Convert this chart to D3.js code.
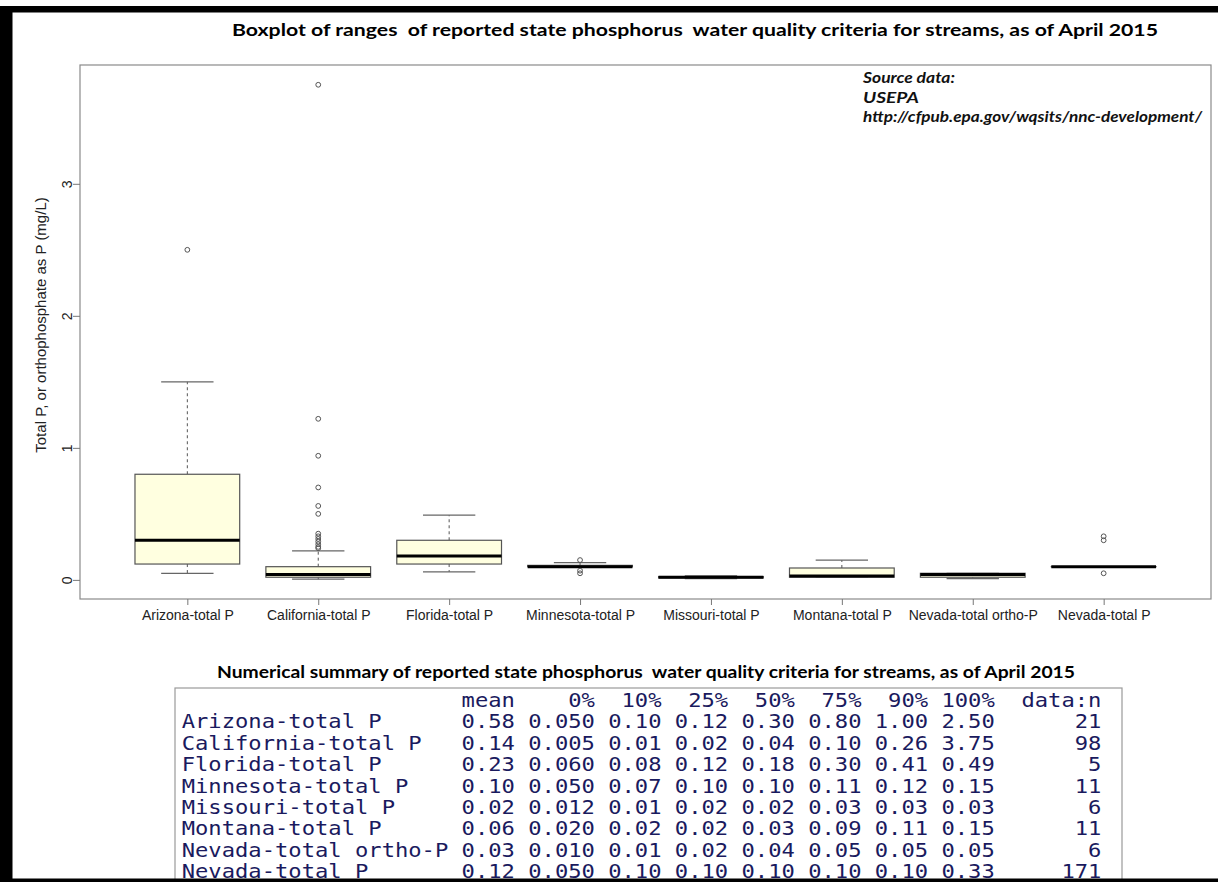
<!DOCTYPE html>
<html>
<head>
<meta charset="utf-8">
<script src="https://cdn.jsdelivr.net/npm/d3@7"></script>
<style>
  html, body { margin: 0; padding: 0; background: #fff; }
  svg { display: block; }
  .mono { white-space: pre; }
</style>
</head>
<body>
<svg id="chart" width="1218" height="882"></svg>
<script>
// ---------------- data ----------------
const categories = ["Arizona-total P", "California-total P", "Florida-total P", "Minnesota-total P",
  "Missouri-total P", "Montana-total P", "Nevada-total ortho-P", "Nevada-total P"];
const whiskerLow  = [0.05, 0.005, 0.06, 0.10, 0.010, 0.02, 0.01, 0.10];
const q1          = [0.12, 0.02,  0.12, 0.10, 0.015, 0.02, 0.02, 0.10];
const medians     = [0.30, 0.04,  0.18, 0.10, 0.020, 0.03, 0.04, 0.10];
const q3          = [0.80, 0.10,  0.30, 0.11, 0.025, 0.09, 0.05, 0.10];
const whiskerHigh = [1.50, 0.22,  0.49, 0.13, 0.030, 0.15, 0.05, 0.10];
const outliers = [
  [2.5],
  [3.75, 1.22, 0.94, 0.70, 0.56, 0.50, 0.35, 0.33, 0.31, 0.29, 0.27, 0.25, 0.24],
  [],
  [0.15, 0.07, 0.05],
  [],
  [],
  [],
  [0.33, 0.30, 0.05]
];
const yTicks = [0, 1, 2, 3];

// numerical summary table
const colHeaders = ["mean", "0%", "10%", "25%", "50%", "75%", "90%", "100%", "data:n"];
const meanVals = [0.58, 0.14, 0.23, 0.10, 0.02, 0.06, 0.03, 0.12];
const p0   = [0.050, 0.005, 0.060, 0.050, 0.012, 0.020, 0.010, 0.050];
const p10  = [0.10, 0.01, 0.08, 0.07, 0.01, 0.02, 0.01, 0.10];
const p25  = [0.12, 0.02, 0.12, 0.10, 0.02, 0.02, 0.02, 0.10];
const p50  = [0.30, 0.04, 0.18, 0.10, 0.02, 0.03, 0.04, 0.10];
const p75  = [0.80, 0.10, 0.30, 0.11, 0.03, 0.09, 0.05, 0.10];
const p90  = [1.00, 0.26, 0.41, 0.12, 0.03, 0.11, 0.05, 0.10];
const p100 = [2.50, 3.75, 0.49, 0.15, 0.03, 0.15, 0.05, 0.33];
const nVals = [21, 98, 5, 11, 6, 11, 6, 171];

const titleText = "Boxplot of ranges  of reported state phosphorus  water quality criteria for streams, as of April 2015";
const tableTitle = "Numerical summary of reported state phosphorus  water quality criteria for streams, as of April 2015";
const sourceLines = ["Source data:", "USEPA", "http://cfpub.epa.gov/wqsits/nnc-development/"];
const yLabel = "Total P, or orthophosphate as P (mg/L)";

// ---------------- drawing ----------------
const svg = d3.select("#chart");
svg.append("rect").attr("width", 1218).attr("height", 882).attr("fill", "#fff");

const plot = { left: 80, right: 1211, top: 65, bottom: 599 };
const n = categories.length;
const x = d3.scaleLinear().domain([0.5 - 0.32, n + 0.5 + 0.32]).range([plot.left, plot.right]);
const y = d3.scaleLinear().domain([-0.1448, 3.8998]).range([plot.bottom, plot.top]);
const halfW = (x(1.4) - x(1));      // box half width (boxwex 0.8)
const capHalf = halfW / 2;           // staple width 0.5

// title
svg.append("text")
  .attr("x", 695).attr("y", 36)
  .attr("text-anchor", "middle")
  .attr("font-family", "Lato, 'Open Sans', sans-serif")
  .attr("font-weight", "bold").attr("font-size", 17)
  .attr("textLength", 926).attr("lengthAdjust", "spacingAndGlyphs")
  .attr("class", "mono")
  .text(titleText);

// source
const srcLen = [92, 56, 339];
svg.append("g").selectAll("text").data(sourceLines).join("text")
  .attr("x", 863).attr("y", (d, i) => 83 + i * 19.6)
  .attr("font-family", "Lato, 'Open Sans', sans-serif")
  .attr("font-weight", "bold").attr("font-style", "italic").attr("font-size", 16)
  .attr("fill", "#111")
  .attr("textLength", (d, i) => srcLen[i]).attr("lengthAdjust", "spacingAndGlyphs")
  .text(d => d);

// frame
svg.append("rect")
  .attr("x", plot.left).attr("y", plot.top)
  .attr("width", plot.right - plot.left).attr("height", plot.bottom - plot.top)
  .attr("fill", "none").attr("stroke", "#8a8a8a").attr("stroke-width", 1.2);

// y axis
const yAxis = svg.append("g").attr("transform", `translate(${plot.left},0)`)
  .call(d3.axisLeft(y).tickValues(yTicks).tickSize(7).tickFormat(d3.format("d")));
yAxis.select(".domain").remove();
yAxis.selectAll(".tick line").attr("stroke", "#777");
yAxis.selectAll(".tick text")
  .attr("font-family", "'Liberation Sans', Arial, sans-serif").attr("font-size", 14).attr("fill", "#222")
  .attr("text-anchor", "middle")
  .attr("transform", "translate(-13,0) rotate(-90)")
  .attr("dy", "0.35em").attr("x", 0).attr("y", 0);

// y label
svg.append("text")
  .attr("transform", `translate(46,325) rotate(-90)`)
  .attr("text-anchor", "middle")
  .attr("font-family", "'Liberation Sans', Arial, sans-serif").attr("font-size", 15).attr("fill", "#222")
  .text(yLabel);

// x axis
const xAxis = svg.append("g").attr("transform", `translate(0,${plot.bottom})`)
  .call(d3.axisBottom(x).tickValues(d3.range(1, n + 1)).tickSize(6)
    .tickFormat(d => categories[d - 1]));
xAxis.select(".domain").remove();
xAxis.selectAll(".tick line").attr("stroke", "#777");
xAxis.selectAll(".tick text")
  .attr("font-family", "'Liberation Sans', Arial, sans-serif").attr("font-size", 14).attr("fill", "#222")
  .attr("y", 11);

// boxes
const g = svg.append("g");
categories.forEach((c, i) => {
  const cx = x(i + 1);
  g.append("line").attr("x1", cx).attr("x2", cx).attr("y1", y(q3[i])).attr("y2", y(whiskerHigh[i]))
    .attr("stroke", "#555").attr("stroke-dasharray", "3,3").attr("stroke-width", 1);
  g.append("line").attr("x1", cx).attr("x2", cx).attr("y1", y(q1[i])).attr("y2", y(whiskerLow[i]))
    .attr("stroke", "#555").attr("stroke-dasharray", "3,3").attr("stroke-width", 1);
  [whiskerHigh[i], whiskerLow[i]].forEach(v => {
    g.append("line").attr("x1", cx - capHalf).attr("x2", cx + capHalf).attr("y1", y(v)).attr("y2", y(v))
      .attr("stroke", "#666").attr("stroke-width", 1.2);
  });
  g.append("rect")
    .attr("x", cx - halfW).attr("width", 2 * halfW)
    .attr("y", y(q3[i])).attr("height", Math.max(0.01, y(q1[i]) - y(q3[i])))
    .attr("fill", "#ffffe0").attr("stroke", "#555").attr("stroke-width", 1.2);
  g.append("line").attr("x1", cx - halfW).attr("x2", cx + halfW)
    .attr("y1", y(medians[i])).attr("y2", y(medians[i]))
    .attr("stroke", "#000").attr("stroke-width", 3);
  g.selectAll(null).data(outliers[i]).join("circle")
    .attr("cx", cx).attr("cy", d => y(d)).attr("r", 2.4)
    .attr("fill", "none").attr("stroke", "#555").attr("stroke-width", 1);
});

// table title
svg.append("text")
  .attr("x", 646).attr("y", 678)
  .attr("text-anchor", "middle")
  .attr("font-family", "Lato, 'Open Sans', sans-serif")
  .attr("font-weight", "bold").attr("font-size", 17)
  .attr("textLength", 858).attr("lengthAdjust", "spacingAndGlyphs")
  .attr("class", "mono")
  .text(tableTitle);

// table box
svg.append("rect").attr("x", 175).attr("y", 688).attr("width", 947).attr("height", 210)
  .attr("fill", "#fff").attr("stroke", "#9a9a9a").attr("stroke-width", 1.2);

// table lines (R console print)
const f2 = d3.format(".2f"), f3 = d3.format(".3f");
const labelW = d3.max(categories, d => d.length);
const headerLine = " ".repeat(labelW) + " " + colHeaders[0].padStart(4) + " " + colHeaders[1].padStart(5) +
  colHeaders.slice(2, 8).map(h => " " + h.padStart(4)).join("") + "  " + colHeaders[8];
const rowLines = categories.map((c, i) =>
  c.padEnd(labelW) + " " + f2(meanVals[i]).padStart(4) + " " + f3(p0[i]).padStart(5) +
  [p10, p25, p50, p75, p90, p100].map(a => " " + f2(a[i]).padStart(4)).join("") +
  "  " + String(nVals[i]).padStart(6));
const lines = [headerLine].concat(rowLines);
const monoSize = 19.5;
const charW = 13.33;
const sx = charW / (0.602 * monoSize);
svg.append("g").attr("transform", `translate(181.7,0) scale(${sx},1)`)
  .selectAll("text").data(lines).join("text")
  .attr("class", "mono")
  .attr("x", 0).attr("y", (d, i) => 707 + i * 21.4)
  .attr("font-family", "'DejaVu Sans Mono', 'Liberation Mono', monospace")
  .attr("font-size", monoSize).attr("fill", "#1a1a5e")
  .text(d => d);

// black border
svg.append("rect").attr("x", 0).attr("y", 6).attr("width", 1218).attr("height", 6.5).attr("fill", "#000");
svg.append("rect").attr("x", 0).attr("y", 6).attr("width", 12.5).attr("height", 876).attr("fill", "#000");
svg.append("rect").attr("x", 0).attr("y", 878.5).attr("width", 1218).attr("height", 3.5).attr("fill", "#000");
</script>
</body>
</html>
